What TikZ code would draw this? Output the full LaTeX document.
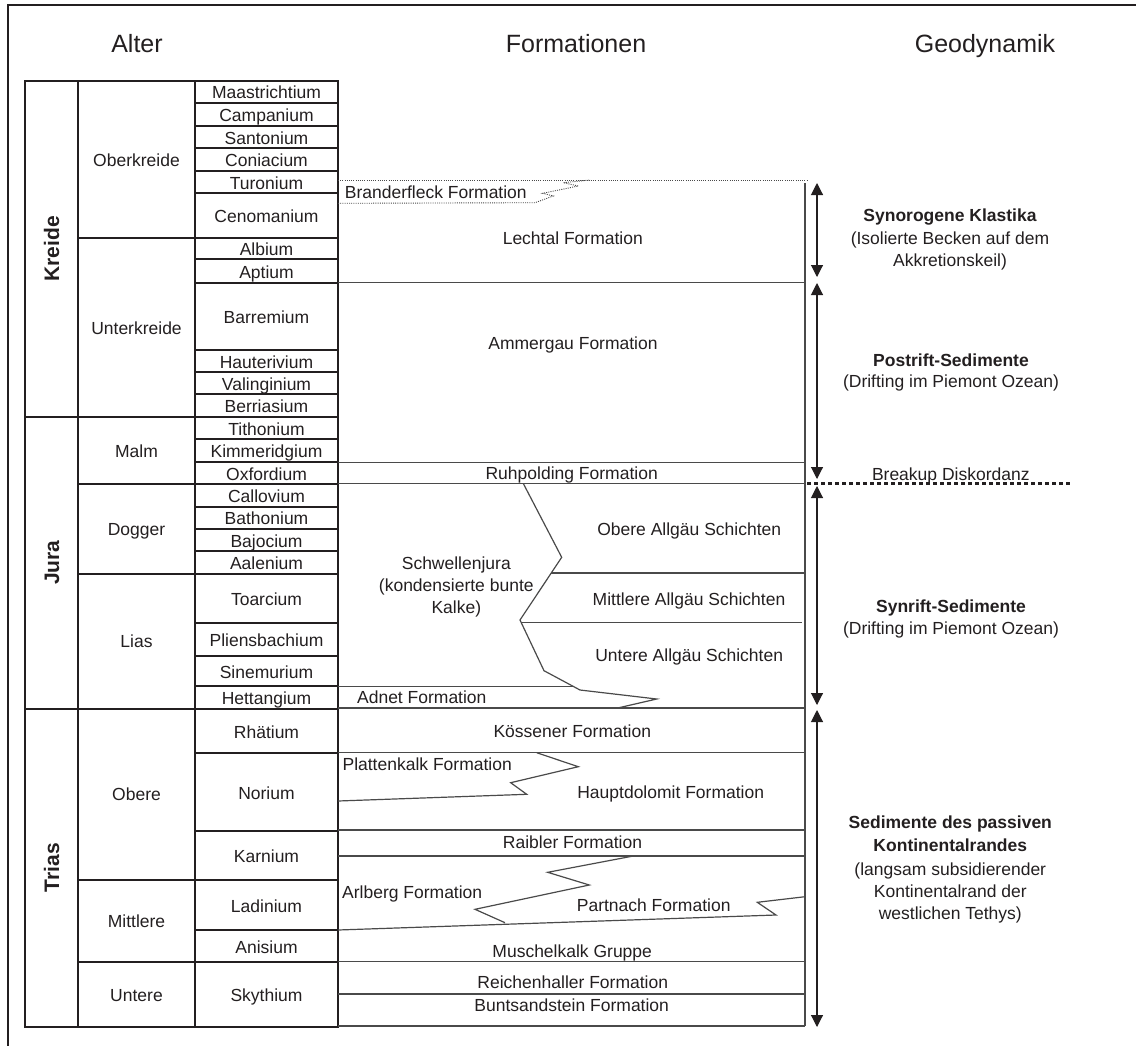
\documentclass[tikz,border=0pt]{standalone}
\usepackage{fontspec}
\setmainfont{Liberation Sans}
\usetikzlibrary{arrows.meta}
\definecolor{ink}{HTML}{231F20}
\definecolor{fline}{HTML}{4A4A4A}
\begin{document}
\begin{tikzpicture}[x=1pt,y=-1pt,
  txt/.style={font=\fontsize{17.5}{21}\selectfont, text=ink, inner sep=0pt, text height=12.5pt, text depth=0pt},
  btxt/.style={txt, font=\fontsize{17.5}{21}\selectfont\bfseries},
  hdr/.style={font=\fontsize{25}{30}\selectfont, text=ink, inner sep=0pt, text height=17.9pt, text depth=0pt},
  period/.style={font=\fontsize{21}{25}\selectfont\bfseries, text=ink, inner sep=0pt, text height=15pt, text depth=0pt, rotate=90},
  tab/.style={draw=ink, line width=2.2pt},
  fm/.style={draw=fline, line width=1.2pt, line join=miter},
  dotl/.style={draw=fline, line width=0.9pt, dash pattern=on 1pt off 1.2pt},
  geoarrow/.style={draw=ink, line width=1.1pt, {Triangle[width=12pt,length=12pt]}-{Triangle[width=12pt,length=12pt]}},
  breakup/.style={draw=ink, line width=3pt, dash pattern=on 3.5pt off 3.5pt},
  ]
\useasboundingbox (0,0) rectangle (1136,1045);
% outer frame
\draw[draw=ink, line width=2.2pt] (8,1046) -- (8,5.3) -- (1137,5.3);

% headers
\node[hdr] (hAlter) at (137,43.5) {Alter};
\node[hdr] (hForm) at (576,43.5) {Formationen};
\node[hdr] (hGeo) at (985,43.5) {Geodynamik};

% ---------- age table ----------
\foreach \y in {102.7,126,148,171,192.7,259.3,282.7,350,371.7,394.3,439,462,506.7,528.7,551,623.3,656,686,753.3,830.7,930}
  \draw[tab] (195,\y) -- (338,\y);
\foreach \y in {237.7,483.7,574,880,961.7}
  \draw[tab] (78,\y) -- (338,\y);
\foreach \y in {416.7,708.7}
  \draw[tab] (25,\y) -- (338,\y);
\draw[tab] (25,80.7) rectangle (338,1026.7);
\draw[tab] (78,80.7) -- (78,1026.7);
\draw[tab] (195,80.7) -- (195,1026.7);

% periods
\node[period] (pKreide) at (51.5,248.7) {Kreide};
\node[period] (pJura) at (51.5,562.7) {Jura};
\node[period] (pTrias) at (51.5,867.7) {Trias};

% epochs
\node[txt] (eOk) at (136.5,160) {Oberkreide};
\node[txt] (eUk) at (136.5,328) {Unterkreide};
\node[txt] (eMalm) at (136.5,451.5) {Malm};
\node[txt] (eDogger) at (136.5,529) {Dogger};
\node[txt] (eLias) at (136.5,641) {Lias};
\node[txt] (eObere) at (136.5,794) {Obere};
\node[txt] (eMittlere) at (136.5,921) {Mittlere};
\node[txt] (eUntere) at (136.5,995) {Untere};

% stages
\foreach \nm/\ya/\yb [count=\i] in {Maastrichtium/80.7/102.7, Campanium/102.7/126, Santonium/126/148,
  Coniacium/148/171, Turonium/171/192.7, Cenomanium/192.7/237.7, Albium/237.7/259.3, Aptium/259.3/282.7,
  Barremium/282.7/350, Hauterivium/350/371.7, Valinginium/371.7/394.3, Berriasium/394.3/416.7,
  Tithonium/416.7/439, Kimmeridgium/439/462, Oxfordium/462/483.7, Callovium/483.7/506.7,
  Bathonium/506.7/528.7, Bajocium/528.7/551, Aalenium/551/574, Toarcium/574/623.3,
  Pliensbachium/623.3/656, Sinemurium/656/686, Hettangium/686/708.7, Rhätium/708.7/753.3,
  Norium/753.3/830.7, Karnium/830.7/880, Ladinium/880/930, Anisium/930/961.7, Skythium/961.7/1026.7}
  \node[txt] (st\i) at (266.5,{(\ya+\yb)/2+1}) {\nm};

% ---------- formations ----------
% Branderfleck (dotted)
\draw[dotl] (338,180) -- (806.7,180);
\draw[dotl] (338,203.3) -- (535,202.7) -- (553.3,196) -- (542.7,193.3) -- (578.3,186) -- (563.3,182.7) -- (590,180);
\draw[fm] (805,183) -- (805,1026);

\draw[fm] (338,282.7) -- (805,282.7);
\draw[fm] (338,462.3) -- (805,462.3);
\draw[fm] (338,483.5) -- (805,483.5);
% Schwellenjura / Allgaeu
\draw[fm] (523.3,483.5) -- (561.7,557.3) -- (520,620) -- (544,670.7) -- (580,690) -- (656.7,699) -- (617.7,708);
\draw[fm] (338,686.7) -- (573.8,686.7);
\draw[fm] (551.3,573) -- (804,573);
\draw[fm] (521.1,622.3) -- (801.7,622.3);
\draw[fm] (338,708) -- (805,708);
% Trias
\draw[fm] (338,752.7) -- (805,752.7);
\draw[fm] (536.7,752.7) -- (578.3,766.7) -- (510.7,782.7) -- (526.7,794.3) -- (338,801);
\draw[fm] (338,830) -- (805,830);
\draw[fm] (338,856) -- (805,856);
\draw[fm] (633.3,856) -- (547.7,872.3) -- (589.3,885) -- (475,909.3) -- (505,922.7);
\draw[fm] (338,930) -- (776,915) -- (757.3,902.3) -- (805,896.7);
\draw[fm] (338,961.7) -- (805,961.7);
\draw[fm] (338,994) -- (805,994);
\draw[fm] (338,1026) -- (805,1026);

% formation labels
\node[txt] (fBrand) at (435.8,192.3) {Branderfleck Formation};
\node[txt] (fLech) at (572.8,238.3) {Lechtal Formation};
\node[txt] (fAmm) at (573,343) {Ammergau Formation};
\node[txt] (fRuh) at (571.7,473.3) {Ruhpolding Formation};
\node[txt] (fSch1) at (456.3,563.3) {Schwellenjura};
\node[txt] (fSch2) at (456.3,585) {(kondensierte bunte};
\node[txt] (fSch3) at (456.3,607.3) {Kalke)};
\node[txt] (fOA) at (689.2,529) {Obere Allgäu Schichten};
\node[txt] (fMA) at (689,599) {Mittlere Allgäu Schichten};
\node[txt] (fUA) at (689.2,655) {Untere Allgäu Schichten};
\node[txt] (fAdnet) at (421.8,697.7) {Adnet Formation};
\node[txt] (fKoess) at (572.3,731) {Kössener Formation};
\node[txt] (fPlatt) at (427.2,764.3) {Plattenkalk Formation};
\node[txt] (fHaupt) at (670.7,792.7) {Hauptdolomit Formation};
\node[txt] (fRaib) at (572.5,842.7) {Raibler Formation};
\node[txt] (fArl) at (412.2,892.3) {Arlberg Formation};
\node[txt] (fPart) at (653.7,905.7) {Partnach Formation};
\node[txt] (fMusch) at (572.2,951.7) {Muschelkalk Gruppe};
\node[txt] (fReich) at (572.8,982.7) {Reichenhaller Formation};
\node[txt] (fBunt) at (571.7,1005) {Buntsandstein Formation};

% ---------- geodynamics ----------
\coordinate (a1t) at (817,183);
\coordinate (a1b) at (817,277);
\coordinate (a2t) at (817,283);
\coordinate (a2b) at (817,479);
\coordinate (a3t) at (817,486);
\coordinate (a3b) at (817,705);
\coordinate (a4t) at (817,710);
\coordinate (a4b) at (817,1027);
\draw[geoarrow] (a1t) -- (a1b);
\draw[geoarrow] (a2t) -- (a2b);
\draw[geoarrow] (a3t) -- (a3b);
\draw[geoarrow] (a4t) -- (a4b);
\coordinate (bkL) at (807,483);
\coordinate (bkR) at (1072,483);
\draw[breakup] (bkL) -- (bkR);

\node[btxt] (g1a) at (950,215) {Synorogene Klastika};
\node[txt] (g1b) at (950,238.3) {(Isolierte Becken auf dem};
\node[txt] (g1c) at (950,260) {Akkretionskeil)};
\node[btxt] (g2a) at (951,360) {Postrift-Sedimente};
\node[txt] (g2b) at (951,381.7) {(Drifting im Piemont Ozean)};
\node[txt] (g3) at (950.8,474) {Breakup Diskordanz};
\node[btxt] (g4a) at (951,606) {Synrift-Sedimente};
\node[txt] (g4b) at (951,628) {(Drifting im Piemont Ozean)};
\node[btxt] (g5a) at (950.3,822.7) {Sedimente des passiven};
\node[btxt] (g5b) at (950.3,845.7) {Kontinentalrandes};
\node[txt] (g5c) at (950.3,869.3) {(langsam subsidierender};
\node[txt] (g5d) at (950.3,891.7) {Kontinentalrand der};
\node[txt] (g5e) at (950.3,913.3) {westlichen Tethys)};
\end{tikzpicture}
\end{document}
